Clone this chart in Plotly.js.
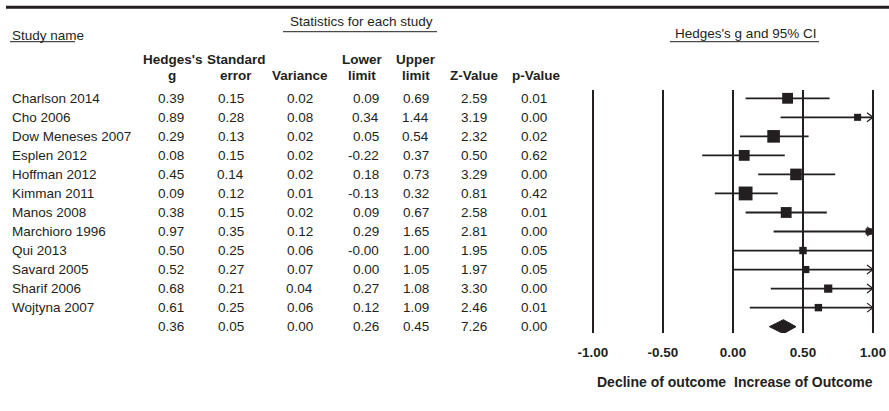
<!DOCTYPE html>
<html>
<head>
<meta charset="utf-8">
<script src="https://cdn.plot.ly/plotly-3.0.1.min.js"></script>
<style>html,body{margin:0;padding:0;background:#fff;}#chart{width:889px;height:411px;}</style>
</head>
<body>
<div id="chart"></div>
<script>
// ---- data ----
const studies = ["Charlson 2014","Cho 2006","Dow Meneses 2007","Esplen 2012","Hoffman 2012","Kimman 2011","Manos 2008","Marchioro 1996","Qui 2013","Savard 2005","Sharif 2006","Wojtyna 2007"];
const hedgesG   = [0.39,0.89,0.29,0.08,0.45,0.09,0.38,0.97,0.50,0.52,0.68,0.61];
const stdError  = [0.15,0.28,0.13,0.15,0.14,0.12,0.15,0.35,0.25,0.27,0.21,0.25];
const variance  = [0.02,0.08,0.02,0.02,0.02,0.01,0.02,0.12,0.06,0.07,0.04,0.06];
const lowerLim  = [0.09,0.34,0.05,-0.22,0.18,-0.13,0.09,0.29,-0.00,0.00,0.27,0.12];
const upperLim  = [0.69,1.44,0.54,0.37,0.73,0.32,0.67,1.65,1.00,1.05,1.08,1.09];
const zValue    = [2.59,3.19,2.32,0.50,3.29,0.81,2.58,2.81,1.95,1.97,3.30,2.46];
const pValue    = [0.01,0.00,0.02,0.62,0.00,0.42,0.01,0.00,0.05,0.05,0.00,0.01];
// summary row: g, SE, variance, lower, upper, Z, p
const summaryStats = [0.36,0.05,0.00,0.26,0.45,7.26,0.00];
const tickVals = [-1,-0.5,0,0.5,1];
const tickText = ["-1.00","-0.50","0.00","0.50","1.00"];

// ---- layout geometry ----
const W=889,H=411,ML=579,MR=2,MT=90,MB=78;
const PW=W-ML-MR, PH=H-MT-MB;
const ROW0=98.3, STEP=19.03;
const yTop=(MT-ROW0)/STEP, yBot=(H-MB-ROW0)/STEP;
const px=x=>(x-ML)/PW, py=y=>(H-MB-y)/PH;
const FONT="Liberation Sans, Arial, sans-serif";
const INK="#231f20";
const FS=13.5;
const fmt=v=>(Object.is(v,-0)?"-":"")+v.toFixed(2);

const n=studies.length, sumRow=n;
const rows=studies.map((_,i)=>i);

// CI lines (clipped at axis ends)
const ciX=[],ciY=[];
rows.forEach(i=>{ciX.push(Math.max(lowerLim[i],-1),Math.min(upperLim[i],1),null);ciY.push(i,i,null);});
// chevrons where CI exceeds the axis
const arX=[],arY=[];
const dx=6/140, dy=4.5/STEP;
rows.forEach(i=>{ if(upperLim[i]>1){arX.push(1-dx,1,1-dx,null);arY.push(i-dy,i,i+dy,null);} });
// square size from weight (1/variance)
const sizes=stdError.map(se=>5.5+0.12/(se*se));
// diamond
const [sg,,,sl,su]=summaryStats;
const dh=7/STEP;

const traces=[
 {x:ciX,y:ciY,mode:"lines",line:{color:INK,width:1.8},hoverinfo:"skip",showlegend:false},
 {x:arX,y:arY,mode:"lines",line:{color:INK,width:1.2},hoverinfo:"skip",showlegend:false},
 {x:hedgesG,y:rows,mode:"markers",marker:{symbol:"square",size:sizes,color:INK,opacity:1,line:{width:0}},showlegend:false},
 {x:[sl,sg,su,sg,sl],y:[sumRow,sumRow-dh,sumRow,sumRow+dh,sumRow],mode:"lines",fill:"toself",fillcolor:INK,line:{color:INK,width:1},showlegend:false}
];

const ann=[];
const txt=(x,y,text,xa,opts={})=>ann.push(Object.assign({x:x,y:y,xref:"paper",yref:"paper",text:text,xanchor:xa,yanchor:"middle",showarrow:false,font:{family:FONT,size:FS,color:INK}},opts));
// table columns: right edges
const colRight=[186,246,315,381,431,489,549];
const cols=[hedgesG,stdError,variance,lowerLim,upperLim,zValue,pValue];
rows.forEach(i=>{
  ann.push({x:px(10),y:i,xref:"paper",yref:"y",text:studies[i],xanchor:"left",yanchor:"middle",showarrow:false,font:{family:FONT,size:FS,color:INK}});
  cols.forEach((c,k)=>ann.push({x:px(colRight[k]),y:i,xref:"paper",yref:"y",text:fmt(c[i]),xanchor:"right",yanchor:"middle",showarrow:false,font:{family:FONT,size:FS,color:INK}}));
});
summaryStats.forEach((v,k)=>ann.push({x:px(colRight[k]),y:sumRow,xref:"paper",yref:"y",text:fmt(v),xanchor:"right",yanchor:"middle",showarrow:false,font:{family:FONT,size:FS,color:INK}}));
// headers
const hdr=[["Hedges's","g",172],["Standard","error",236],["","Variance",300],["Lower","limit",362],["Upper","limit",416],["","Z-Value",474],["","p-Value",536]];
hdr.forEach(([a,b,cx])=>{ if(a) txt(px(cx),py(60),"<b>"+a+"</b>","center"); txt(px(cx),py(75.5),"<b>"+b+"</b>","center"); });
txt(px(361),py(21.7),"Statistics for each study","center");
txt(px(10),py(35),"Study name","left");
txt(px(745),py(33.5),"Hedges's g and 95% CI","center");
// axis caption
ann.push({x:0,y:py(381.7),xref:"x",yref:"paper",text:"<b>Decline of outcome</b>",xanchor:"right",yanchor:"middle",xshift:-5,showarrow:false,font:{family:FONT,size:14,color:INK}});
ann.push({x:0,y:py(381.7),xref:"x",yref:"paper",text:"<b>Increase of Outcome</b>",xanchor:"left",yanchor:"middle",xshift:-1,showarrow:false,font:{family:FONT,size:14,color:INK}});

const hline=(x0,x1,y,w)=>({type:"line",xref:"paper",yref:"paper",x0:px(x0),x1:px(x1),y0:py(y),y1:py(y),line:{color:INK,width:w}});
const shapes=[hline(6,889,7.3,3),hline(283,437,31.7,1),hline(10,75,41.7,1),hline(670,819,41.7,1)];

const layout={
 width:W,height:H,margin:{l:ML,r:MR,t:MT,b:MB,pad:0},
 paper_bgcolor:"#fff",plot_bgcolor:"#fff",showlegend:false,
 font:{family:FONT,color:INK},
 xaxis:{range:[-1.1,1.1],tickvals:tickVals,ticktext:tickText,showgrid:true,gridcolor:INK,gridwidth:2,zeroline:false,showline:false,
        ticks:"outside",ticklen:7,tickcolor:"rgba(0,0,0,0)",tickfont:{family:FONT,size:FS,color:INK,weight:700},fixedrange:true},
 yaxis:{range:[yBot,yTop],showgrid:false,zeroline:false,showline:false,showticklabels:false,ticks:"",fixedrange:true},
 annotations:ann,shapes:shapes
};
Plotly.newPlot("chart",traces,layout,{displayModeBar:false,staticPlot:true});
</script>
</body>
</html>
